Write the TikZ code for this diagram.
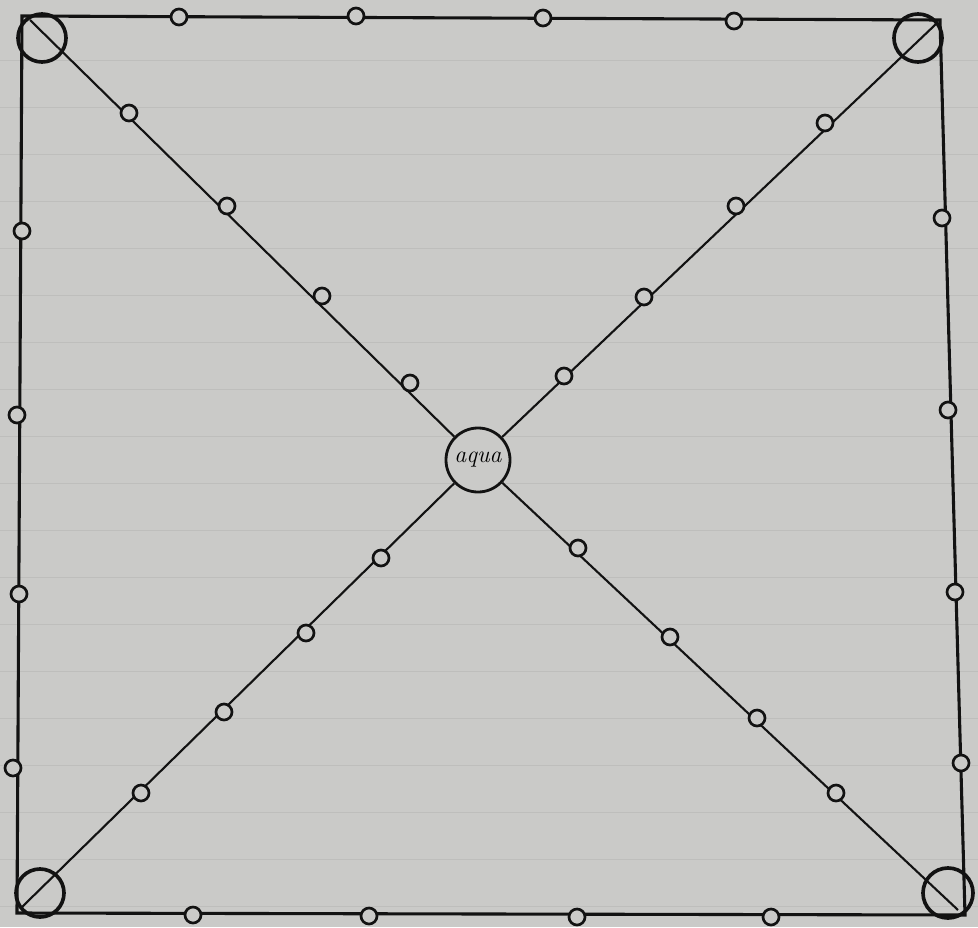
\documentclass[tikz,border=0pt]{standalone}
\definecolor{paper}{RGB}{202,202,200}
\definecolor{rule}{RGB}{190,190,188}
\definecolor{ink}{RGB}{18,18,18}
\tikzset{
  aq big/.style={circle,draw=ink,line width=2.6pt,minimum size=1.2cm,inner sep=0pt},
  aq small/.style={circle,draw=ink,fill=paper,line width=1.9pt,minimum size=0.4cm,inner sep=0pt},
  aq well/.style={circle,draw=ink,fill=paper,line width=2pt,minimum size=1.6cm,inner sep=0pt,
    font=\fontsize{17}{19}\selectfont\itshape},
  aq side/.style={ink,line width=2.2pt},
  aq diag/.style={ink,line width=1.5pt}
}

\begin{document}
\begin{tikzpicture}[x=0.025cm,y=-0.025cm]
  \fill[paper] (0,0) rectangle (978,927);
  \useasboundingbox (0,0) rectangle (978,927);
  % ruled paper
  \foreach \ry in {60,107,154,201,248,295,342,389,436,483,530,577,624,671,718,765,812,859,906}
    \draw[rule,line width=0.6pt] (0,\ry)--(978,\ry);
  % square corners
  \coordinate (tl) at (22,16);
  \coordinate (tr) at (940,20);
  \coordinate (br) at (965,915);
  \coordinate (bl) at (17,913);
  \node[aq well] (w) at (478,460) {aqua};
  \draw[aq side] (tl)--(tr)--(br)--(bl)--cycle;
  \draw[aq diag] (30,20)--(w) (936,24)--(w) (22,907)--(w) (958,910)--(w);
  \node[aq big] (ctl) at (42,38) {};
  \node[aq big] (ctr) at (918,38) {};
  \node[aq big] (cbl) at (40,893) {};
  \node[aq big,minimum size=1.25cm] (cbr) at (948,893) {};
  % edges
  \foreach \i/\p in {1/{179,17},2/{356,16},3/{543,18},4/{734,21}}
    \node[aq small] (t\i) at (\p) {};
  \foreach \i/\p in {1/{22,231},2/{17,415},3/{19,594},4/{13,768}}
    \node[aq small] (l\i) at (\p) {};
  \foreach \i/\p in {1/{942,218},2/{948,410},3/{955,592},4/{961,763}}
    \node[aq small] (r\i) at (\p) {};
  \foreach \i/\p in {1/{193,915},2/{369,916},3/{577,917},4/{771,917}}
    \node[aq small] (b\i) at (\p) {};
  % diagonals
  \foreach \i/\p in {1/{129,113},2/{227,206},3/{322,296},4/{410,383}}
    \node[aq small] (dtl\i) at (\p) {};
  \foreach \i/\p in {1/{825,123},2/{736,206},3/{644,297},4/{564,376}}
    \node[aq small] (dtr\i) at (\p) {};
  \foreach \i/\p in {1/{381,558},2/{306,633},3/{224,712},4/{141,793}}
    \node[aq small] (dbl\i) at (\p) {};
  \foreach \i/\p in {1/{578,548},2/{670,637},3/{757,718},4/{836,793}}
    \node[aq small] (dbr\i) at (\p) {};
\end{tikzpicture}
\end{document}
